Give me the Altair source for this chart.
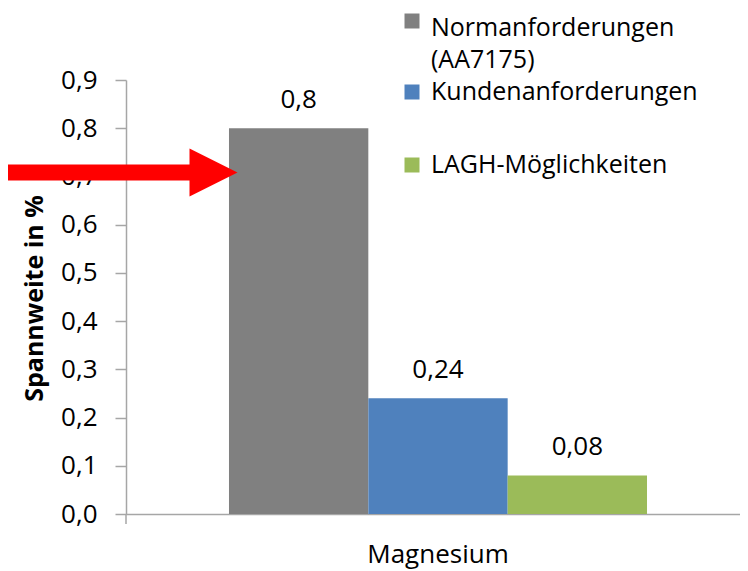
import altair as alt
import pandas as pd

group = "Magnesium"
series = ["Normanforderungen (AA7175)", "Kundenanforderungen", "LAGH-Möglichkeiten"]
values = [0.8, 0.24, 0.08]
value_labels = ["0,8", "0,24", "0,08"]
colors = ["#808080", "#4F81BD", "#9BBB59"]
y_ticks = [0.0, 0.1, 0.2, 0.3, 0.4, 0.5, 0.6, 0.7, 0.8, 0.9]
arrow_target = 0.708

FONT = "Open Sans"
AXIS_GRAY = "#A6A6A6"

df = pd.DataFrame({"group": group, "series": series, "value": values, "label": value_labels})

W, H = 614, 434

x_enc = alt.X("group:N", scale=alt.Scale(paddingInner=0, paddingOuter=0.2344, align=0.5255),
              axis=alt.Axis(title=None, ticks=False, labelAngle=0, labelFontSize=26, labelFont=FONT,
                            labelColor="#000000", domainColor=AXIS_GRAY, domainWidth=1.5,
                            labelPadding=27))
xo_enc = alt.XOffset("series:N", sort=series, scale=alt.Scale(paddingInner=0, paddingOuter=0))
y_scale = alt.Scale(domain=[0, 0.9], nice=False, zero=True)
y_enc = alt.Y("value:Q", scale=y_scale,
              axis=alt.Axis(values=y_ticks, grid=False,
                            labelExpr="replace(format(datum.value, '.1f'), '.', ',')",
                            labelFontSize=26, labelFont=FONT, labelColor="#000000",
                            labelPadding=18, tickSize=11, tickColor=AXIS_GRAY, tickWidth=1.5,
                            domainColor=AXIS_GRAY, domainWidth=1.5,
                            title="Spannweite in %", titleFont=FONT, titleFontSize=25,
                            titleFontWeight="bold", titleColor="#000000",
                            titleX=-92, titleY=H / 2 + 1, titleAngle=-90,
                            titleAlign="center", titleBaseline="middle"))

base = alt.Chart(df)
bars = base.mark_bar().encode(
    x=x_enc, xOffset=xo_enc, y=y_enc,
    color=alt.Color("series:N", scale=alt.Scale(domain=series, range=colors), legend=None),
)
texts = base.mark_text(font=FONT, fontSize=26, baseline="alphabetic", dy=-20, color="#000000").encode(
    x=x_enc, xOffset=xo_enc, y=alt.Y("value:Q", scale=y_scale), text="label:N"
)

one = alt.Chart(pd.DataFrame({"a": [0]}))

corner = one.mark_rule(color=AXIS_GRAY, strokeWidth=1.5).encode(
    x=alt.value(0), y=alt.value(H), y2=alt.value(H + 10))

shaft = one.mark_rule(color="#FF0000", strokeWidth=16, strokeCap="butt").encode(
    x=alt.value(-118), x2=alt.value(66), y=alt.datum(arrow_target, scale=y_scale))
head = one.mark_point(shape="M-1,-1L1,0L-1,1Z", filled=True, opacity=1, color="#FF0000",
                      size=2304, strokeWidth=0).encode(
    x=alt.value(87.5), y=alt.datum(arrow_target, scale=y_scale))

legend_layers = []
legend_rows = [-52, 12, 85]
square_rows = [-59, 12, 85]
for name, col, yy, sy in zip(series, colors, legend_rows, square_rows):
    legend_layers.append(one.mark_square(color=col, size=225, opacity=1).encode(
        x=alt.value(286), y=alt.value(sy)))
    words = name.split(" ")
    for i, w in enumerate(words):
        legend_layers.append(one.mark_text(font=FONT, fontSize=25, align="left", baseline="middle",
                                           color="#000000").encode(
            x=alt.value(305), y=alt.value(yy + 32 * i), text=alt.value(w)))

chart = alt.layer(bars, texts, corner, shaft, head, *legend_layers).properties(
    width=W, height=H,
    autosize=alt.AutoSizeParams(type="none"),
    padding={"left": 118, "top": 72, "right": 0, "bottom": 55},
).configure_view(stroke=None)

chart.save("out.html", embed_options={"renderer": "svg", "actions": False})
